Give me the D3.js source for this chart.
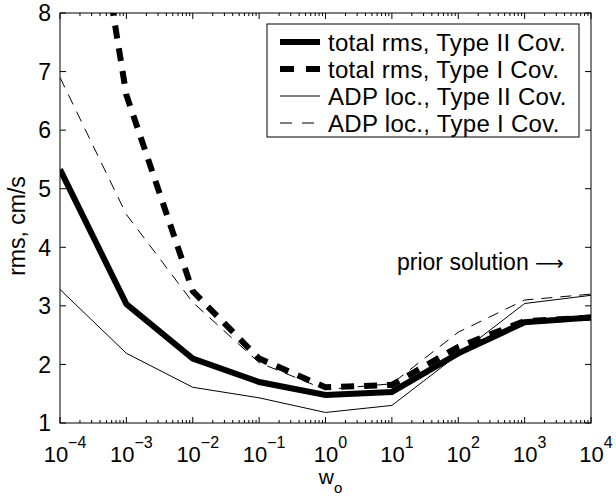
<!DOCTYPE html>
<html lang="en">
<head>
<meta charset="UTF-8">
<title>rms vs wo</title>
<script src="https://cdn.jsdelivr.net/npm/d3@7"></script>
<style>
  body { margin: 0; background: #fff; }
  svg text { font-family: "Liberation Sans", Arial, Helvetica, sans-serif; fill: #000; }
</style>
</head>
<body>
<svg id="chart" width="616" height="497"></svg>
<script>
// values
var wo = [1e-4, 1e-3, 1e-2, 1e-1, 1, 10, 100, 1000, 1e4];
var totalTypeII = [5.33, 3.03, 2.1, 1.7, 1.48, 1.53, 2.19, 2.72, 2.8];
var totalTypeI = [13.6, 6.6, 3.25, 2.1, 1.61, 1.65, 2.3, 2.74, 2.8];
var adpTypeII = [3.28, 2.19, 1.61, 1.43, 1.18, 1.3, 2.17, 3.04, 3.18];
var adpTypeI = [6.9, 4.56, 3.06, 2.03, 1.57, 1.67, 2.55, 3.1, 3.2];
var xExponents = [-4, -3, -2, -1, 0, 1, 2, 3, 4];
var yTicks = [1, 2, 3, 4, 5, 6, 7, 8];

var series = [
  { name: "total rms, Type II Cov.", values: totalTypeII, width: 6, dash: null },
  { name: "total rms, Type I Cov.", values: totalTypeI, width: 6, dash: "13,10" },
  { name: "ADP loc., Type II Cov.", values: adpTypeII, width: 1, dash: null },
  { name: "ADP loc., Type I Cov.", values: adpTypeI, width: 1, dash: "11,8" }
];

var margin = { top: 13, right: 25, bottom: 74, left: 60 };
var W = 616, H = 497;
var iw = W - margin.left - margin.right;
var ih = H - margin.top - margin.bottom;

var svg = d3.select("#chart");
var g = svg.append("g").attr("transform", "translate(" + margin.left + "," + margin.top + ")");

var x = d3.scaleLog().domain([1e-4, 1e4]).range([0, iw]);
var y = d3.scaleLinear().domain([1, 8]).range([ih, 0]);

g.append("defs").append("clipPath").attr("id", "clip")
  .append("rect").attr("width", iw).attr("height", ih);

// lines
var line = d3.line().x(function (d) { return x(d[0]); }).y(function (d) { return y(d[1]); });
var lines = g.append("g").attr("clip-path", "url(#clip)");
series.forEach(function (s) {
  lines.append("path")
    .attr("d", line(wo.map(function (w, i) { return [w, s.values[i]]; })))
    .attr("fill", "none")
    .attr("stroke", "#000")
    .attr("stroke-width", s.width)
    .attr("stroke-dasharray", s.dash)
    .attr("stroke-linejoin", "miter");
});

// ticks (inside, on all four sides)
var minor = [];
for (var e = -4; e < 4; e++) {
  for (var k = 2; k <= 9; k++) minor.push(k * Math.pow(10, e));
}
var majors = xExponents.map(function (p) { return Math.pow(10, p); });

function xTicks(ypos, dir) {
  g.append("g").selectAll("line").data(majors).enter().append("line")
    .attr("x1", function (d) { return x(d); }).attr("x2", function (d) { return x(d); })
    .attr("y1", ypos).attr("y2", ypos + dir * 6)
    .attr("stroke", "#000").attr("stroke-width", 1);
  g.append("g").selectAll("line").data(minor).enter().append("line")
    .attr("x1", function (d) { return x(d); }).attr("x2", function (d) { return x(d); })
    .attr("y1", ypos).attr("y2", ypos + dir * 3)
    .attr("stroke", "#000").attr("stroke-width", 1);
}
xTicks(ih, -1);
xTicks(0, 1);

function yTickLines(xpos, dir) {
  g.append("g").selectAll("line").data(yTicks).enter().append("line")
    .attr("x1", xpos).attr("x2", xpos + dir * 6)
    .attr("y1", function (d) { return y(d); }).attr("y2", function (d) { return y(d); })
    .attr("stroke", "#000").attr("stroke-width", 1);
}
yTickLines(0, 1);
yTickLines(iw, -1);

// frame
g.append("rect").attr("width", iw).attr("height", ih)
  .attr("fill", "none").attr("stroke", "#000").attr("stroke-width", 1);

// y tick labels
g.append("g").selectAll("text").data(yTicks).enter().append("text")
  .attr("x", -9).attr("y", function (d) { return y(d); })
  .attr("dy", "0.36em").attr("text-anchor", "end")
  .style("font-size", "23px")
  .text(function (d) { return d; });

// x tick labels 10^n
var xl = g.append("g").selectAll("text").data(xExponents).enter().append("text")
  .attr("x", function (p) { return x(Math.pow(10, p)) + 5; })
  .attr("y", ih + 39)
  .attr("text-anchor", "middle")
  .style("font-size", "22px");
xl.append("tspan").text("10");
xl.append("tspan").attr("dy", -14).style("font-size", "16px")
  .text(function (p) { return p < 0 ? "\u2212" + (-p) : p; });

// axis labels
var xlab = g.append("text").attr("x", iw / 2 + 5).attr("y", ih + 61)
  .attr("text-anchor", "middle").style("font-size", "21px");
xlab.append("tspan").text("w");
xlab.append("tspan").attr("dy", 9).style("font-size", "15px").text("o");

g.append("text")
  .attr("transform", "translate(-35," + (ih / 2 + 8) + ") rotate(-90)")
  .attr("text-anchor", "middle").style("font-size", "23px")
  .text("rms, cm/s");

// annotation
var note = g.append("text").attr("x", 337).attr("y", y(3.62))
  .style("font-size", "23px");
note.append("tspan").text("prior solution ");
note.append("tspan").style("font-family", "DejaVu Sans").style("font-size", "20px").text("\u27F6");

// legend
var lg = g.append("g").attr("transform", "translate(207,11)");
lg.append("rect").attr("width", 312).attr("height", 113)
  .attr("fill", "#fff").attr("stroke", "#000").attr("stroke-width", 1);
var items = lg.selectAll("g.item").data(series).enter().append("g")
  .attr("class", "item")
  .attr("transform", function (d, i) { return "translate(0," + (18 + i * 27) + ")"; });
items.append("line").attr("x1", 13).attr("x2", 53).attr("y1", 0).attr("y2", 0)
  .attr("stroke", "#000")
  .attr("stroke-width", function (d) { return d.width; })
  .attr("stroke-dasharray", function (d) { return d.dash ? (d.width > 2 ? "14,12" : "12,10") : null; });
items.append("text").attr("x", 61).attr("dy", "0.36em")
  .style("font-size", "24px").style("letter-spacing", "0.3px")
  .text(function (d) { return d.name; });
</script>
</body>
</html>
